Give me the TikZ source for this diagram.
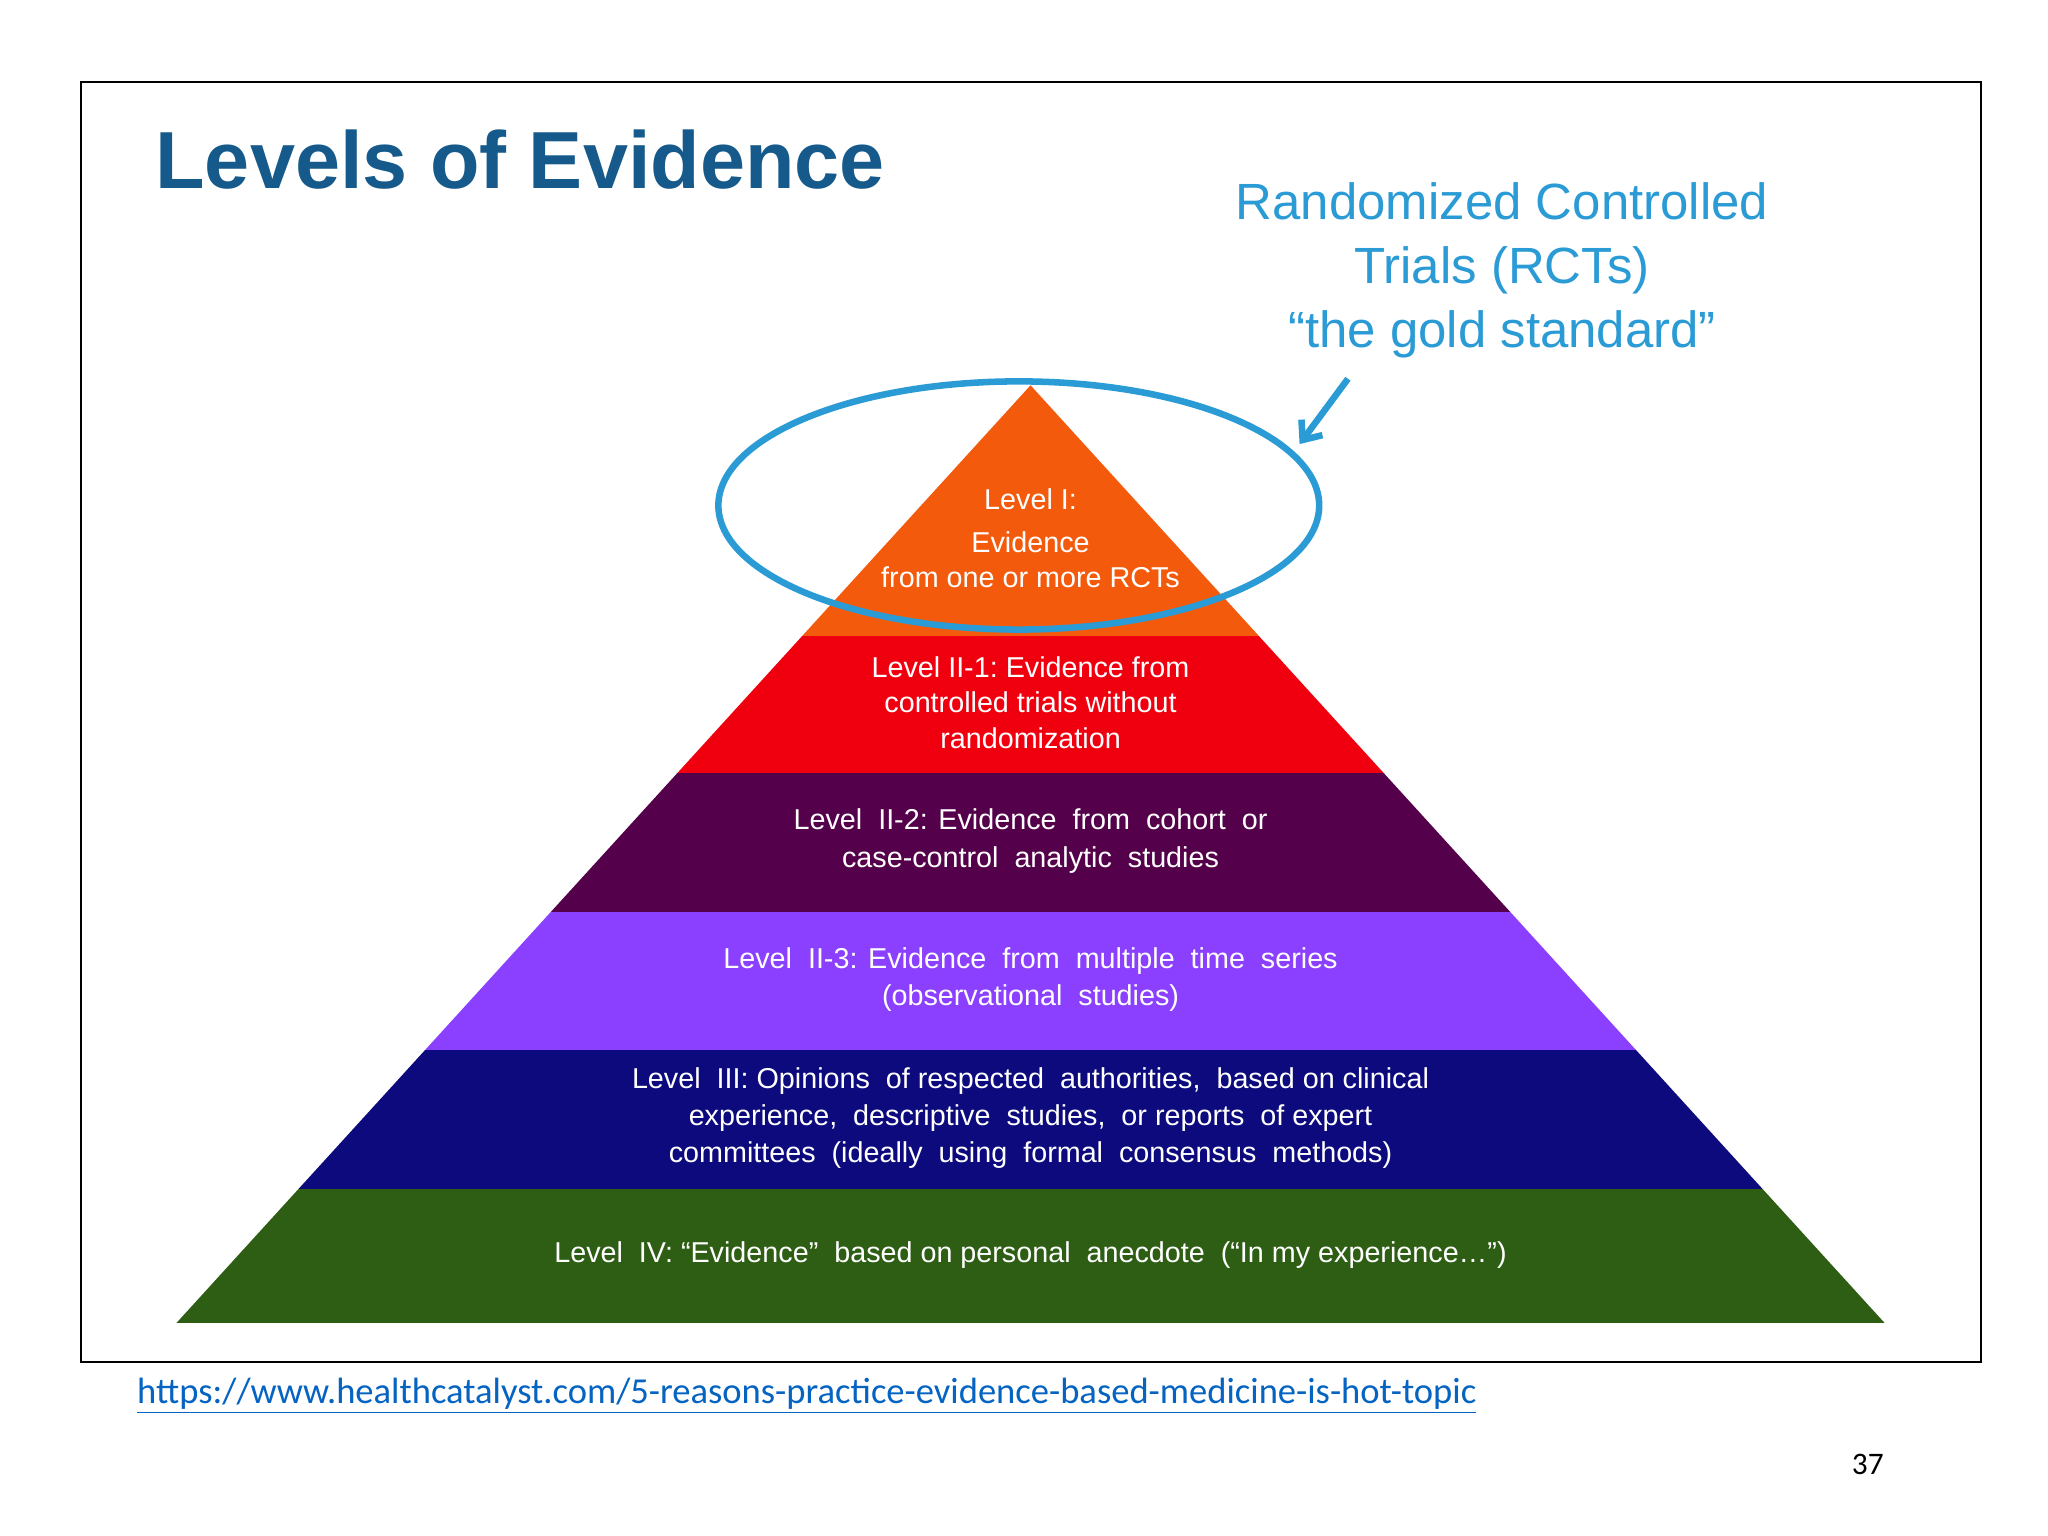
\documentclass[tikz,border=0pt]{standalone}
\usepackage{fontspec}
\setmainfont{Liberation Sans}
\newfontfamily\calib{Carlito}
\usetikzlibrary{arrows.meta}
\definecolor{ttl}{HTML}{155A8A}
\definecolor{rct}{HTML}{2A9BD5}
\definecolor{lone}{HTML}{F45A0C}
\definecolor{ltwo}{HTML}{F0000E}
\definecolor{lthree}{HTML}{55004A}
\definecolor{lfour}{HTML}{8C40FF}
\definecolor{lfive}{HTML}{0C0A7C}
\definecolor{lsix}{HTML}{2E5E14}
\definecolor{urlc}{HTML}{0563C1}
\tikzset{lvl/.style={text=white,align=center,font=\fontsize{11}{13.5}\selectfont}}
\begin{document}
\begin{tikzpicture}[x=0.5pt,y=-0.5pt]
\useasboundingbox (0,0) rectangle (1568,1176);
\fill[white] (0,0) rectangle (1568,1176);
\draw[line width=0.8pt] (62,63) rectangle (1517,1043);
\node[anchor=west,text=ttl,font=\fontsize{31}{36}\bfseries\selectfont] (title) at (112,122) {Levels of Evidence};
\node[text=rct,align=center,font=\fontsize{19.5}{24.5}\selectfont] (rctt) at (1150,207) {Randomized Controlled\\Trials (RCTs)\\``the gold standard''};
\begin{scope}
\clip (789,295) -- (1443,1013) -- (135,1013) -- cycle;
\fill[lone] (0,280) rectangle (1568,487);
\fill[ltwo] (0,487) rectangle (1568,592);
\fill[lthree] (0,592) rectangle (1568,698);
\fill[lfour] (0,698) rectangle (1568,804);
\fill[lfive] (0,804) rectangle (1568,910);
\fill[lsix] (0,910) rectangle (1568,1013);
\end{scope}
\node[lvl] (l1) at (789,412) {Level I:\\[3pt]Evidence\\from one or more RCTs};
\node[lvl] (l2) at (789,538) {Level II-1:\ Evidence from\\controlled trials without\\randomization};
\node[lvl,font=\fontsize{11}{14.5}\selectfont] (l3) at (789,644) {Level\ \ II-2: Evidence\ \ from\ \ cohort\ \ or\\case-control\ \ analytic\ \ studies};
\node[lvl,font=\fontsize{11}{14.5}\selectfont] (l4) at (789,750) {Level\ \ II-3: Evidence\ \ from\ \ multiple\ \ time\ \ series\\(observational\ \ studies)};
\node[lvl,font=\fontsize{11}{14}\selectfont] (l5) at (789,856) {Level\ \ III: Opinions\ \ of respected\ \ authorities,\ \ based\ on clinical\\experience,\ \ descriptive\ \ studies,\ \ or reports\ \ of expert\\committees\ \ (ideally\ \ using\ \ formal\ \ consensus\ \ methods)};
\node[lvl] (l6) at (789,961) {Level\ \ IV: ``Evidence''\ \ based\ on\ personal\ \ anecdote\ \ (``In my experience\dots'')};
\draw[rct,line width=2.5pt] (780,387) ellipse [x radius=230, y radius=95];
\coordinate (as) at (1032,290);
\coordinate (ae) at (995,340);
\draw[rct,line width=2.5pt,-{Straight Barb[length=6pt,width=10pt]}] (as) -- (ae);
\node[anchor=west,text=urlc,font=\calib\fontsize{14}{16}\selectfont] (url) at (98,1069) {\underline{https://www.healthcatalyst.com/5-reasons-practice-evidence-based-medicine-is-hot-topic}};
\node[font=\calib\fontsize{12}{14}\selectfont] (pg) at (1430,1121) {37};
\end{tikzpicture}
\end{document}
